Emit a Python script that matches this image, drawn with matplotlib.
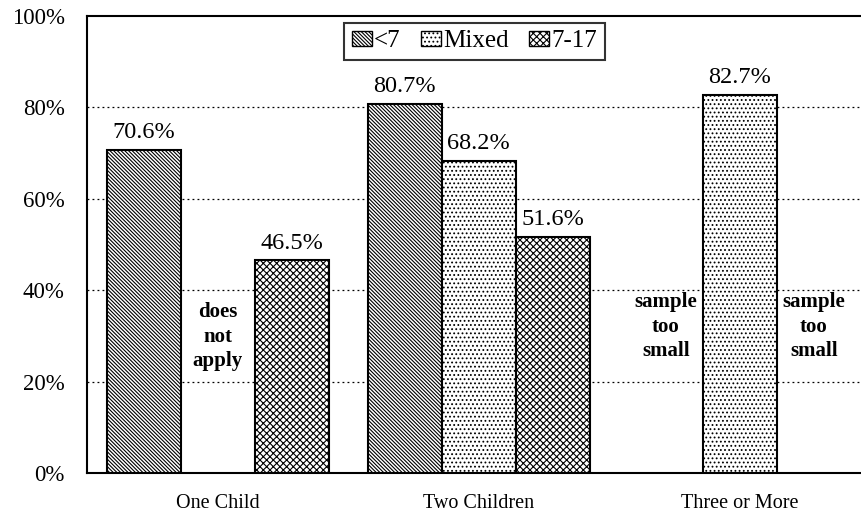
import numpy as np
import matplotlib
matplotlib.use('Agg')
import matplotlib.pyplot as plt
from matplotlib.patches import Patch

categories = ['One Child', 'Two Children', 'Three or More']
series_names = ['<7', 'Mixed', '7-17']
under7 = [70.6, 80.7, None]
mixed = [None, 68.2, 82.7]
age7_17 = [46.5, 51.6, None]
y_ticks = [0, 20, 40, 60, 80, 100]
notes = [(0, 1, 'does\nnot\napply', 29.8),
         (2, 0, 'sample\ntoo\nsmall', 32),
         (2, 2, 'sample\ntoo\nsmall', 32)]

plt.rcParams['font.family'] = ['Liberation Serif', 'DejaVu Serif']
plt.rcParams['hatch.linewidth'] = 0.8

fig = plt.figure(figsize=(8.62, 5.16), dpi=100)
ax = fig.add_axes([87 / 862, 1 - 473 / 516, 1 - 87 / 862, (473 - 16) / 516])

width = 0.2835
hatches = ['\\' * 9, '....', 'xxxxx']
x = np.arange(len(categories))

for k, (name, vals, hatch) in enumerate(zip(series_names, [under7, mixed, age7_17], hatches)):
    for i, v in enumerate(vals):
        if v is None:
            continue
        xpos = x[i] + (k - 1) * width
        ax.bar(xpos, v, width, color='white', edgecolor='black', hatch=hatch,
               linewidth=1.5, zorder=3)
        ax.text(xpos, v + 2.6, f'{v:.1f}%', ha='center', va='baseline', fontsize=17.5)

for i, k, txt, yv in notes:
    ax.text(x[i] + (k - 1) * width, yv, txt, ha='center', va='center',
            fontsize=15, fontweight='bold', linespacing=1.3)

ax.set_xlim(-0.5, 2.468)
ax.set_ylim(0, 100)
ax.set_yticks(y_ticks)
ax.set_yticklabels([f'{t}%' for t in y_ticks], fontsize=16.5)
ax.set_xticks(x)
ax.set_xticklabels(categories, fontsize=14.5)
ax.tick_params(axis='both', length=0)
ax.tick_params(axis='y', pad=16)
ax.tick_params(axis='x', pad=15)

for t in y_ticks[1:-1]:
    ax.axhline(t, color='black', linestyle=(0, (1.5, 2.5)), linewidth=0.9, zorder=1)

ax.spines['right'].set_visible(False)
for s in ['left', 'top', 'bottom']:
    ax.spines[s].set_linewidth(1.5)

handles = [Patch(facecolor='white', edgecolor='black', hatch=h, label=n)
           for h, n in zip(hatches, series_names)]
leg = ax.legend(handles=handles, loc='upper center', bbox_to_anchor=(0.5, 0.985),
                ncol=3, fontsize=18, frameon=True, fancybox=False,
                handlelength=0.8, handleheight=0.6, handletextpad=0.1,
                columnspacing=0.8, borderpad=0.3, borderaxespad=0.0,
                edgecolor='black')
leg.get_frame().set_linewidth(1.5)

fig.savefig('out.png', dpi=100)
